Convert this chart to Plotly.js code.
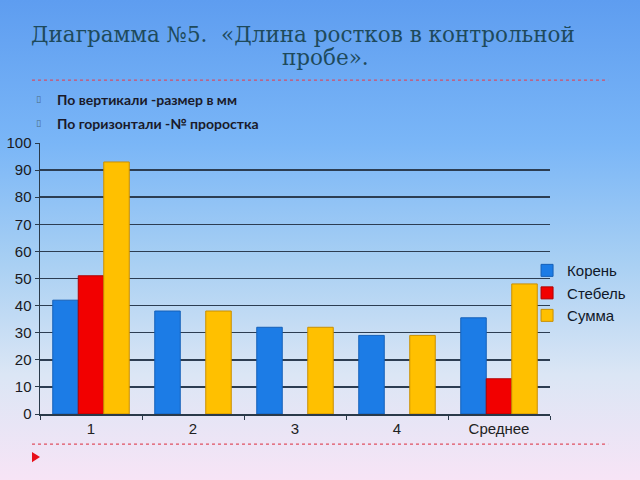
<!DOCTYPE html>
<html>
<head>
<meta charset="utf-8">
<script src="https://cdn.plot.ly/plotly-3.0.1.min.js"></script>
<style>
html,body{margin:0;padding:0;}
#chart{width:640px;height:480px;background:linear-gradient(180deg,#5e9df0 0%,#7ab6f7 30%,#a9d0f3 55%,#dbe6f5 78%,#f7e4f6 100%);}
</style>
</head>
<body>
<div id="chart"></div>
<script>
const categories = ["1", "2", "3", "4", "Среднее"];
const seriesNames = ["Корень", "Стебель", "Сумма"];
const koren = [42, 38, 32, 29, 35.5];
const stebel = [51, 0, 0, 0, 13];
const summa = [93, 38, 32, 29, 48];
const seriesColors = ["#1c7ce6", "#f20000", "#ffc000"];
const lineColors = ["#1560b8", "#b00000", "#c98f00"];
const yTicks = [0, 10, 20, 30, 40, 50, 60, 70, 80, 90, 100];

const values = [koren, stebel, summa];
const traces = values.map((v, i) => ({
  type: "bar",
  name: seriesNames[i],
  x: categories,
  y: v,
  marker: {color: seriesColors[i], line: {color: lineColors[i], width: v.map(d => d === 0 ? 0 : 1)}}
}));

const layout = {
  width: 640, height: 480,
  paper_bgcolor: "rgba(0,0,0,0)",
  plot_bgcolor: "rgba(0,0,0,0)",
  margin: {l: 40, r: 90, t: 143, b: 66, autoexpand: false},
  barmode: "group",
  bargap: 0.25,
  bargroupgap: 0,
  showlegend: true,
  legend: {x: 0.955, xanchor: "left", y: 0.59, yanchor: "top",
    bgcolor: "rgba(0,0,0,0)", font: {family: "Liberation Sans, Arial", size: 15, color: "#101828"},
    tracegroupgap: 0, itemwidth: 30},
  xaxis: {type: "category", showline: true, linecolor: "#2a3a4a", linewidth: 1.5,
    ticks: "outside", tickson: "boundaries", ticklen: 4, tickcolor: "#2a3a4a",
    tickfont: {family: "Liberation Sans, Arial", size: 15, color: "#222"}, showgrid: false},
  yaxis: {range: [0, 100], tickvals: yTicks, showline: true, linecolor: "#2a3a4a", linewidth: 1.5,
    ticks: "outside", ticklen: 4, tickcolor: "#2a3a4a",
    gridcolor: "#2c3d52", gridwidth: 1.5, zeroline: false,
    tickfont: {family: "Liberation Sans, Arial", size: 15, color: "#1a1a22"}},
  shapes: [
    {type: "line", xref: "paper", yref: "paper", x0: -0.0157, x1: 1.114, y0: 1.232, y1: 1.232,
      line: {color: "#d0506a", width: 1.2, dash: "dot"}},
    {type: "line", xref: "paper", yref: "paper", x0: -0.0157, x1: 1.114, y0: -0.111, y1: -0.111,
      line: {color: "#e05060", width: 1.2, dash: "dot"}},
    {type: "path", xref: "paper", yref: "paper",
      path: "M -0.0157 -0.140 L 0.0 -0.159 L -0.0157 -0.178 Z",
      fillcolor: "#e8101a", line: {width: 0}}
  ],
  annotations: [
    {text: "Диаграмма №5.  «Длина ростков в контрольной", xref: "paper", yref: "paper",
      x: -0.022, y: 1.40, xanchor: "left", yanchor: "middle", showarrow: false,
      font: {family: "DejaVu Serif, Liberation Serif, serif", size: 21.5, color: "#1e4a5c"}},
    {text: "пробе».", xref: "paper", yref: "paper",
      x: 0.559, y: 1.314, xanchor: "center", yanchor: "middle", showarrow: false,
      font: {family: "DejaVu Serif, Liberation Serif, serif", size: 21.5, color: "#1e4a5c"}},
    {text: "▯", xref: "paper", yref: "paper", x: -0.002, y: 1.161, xanchor: "center", yanchor: "middle",
      showarrow: false, font: {family: "DejaVu Sans", size: 9, color: "#4a6a80"}},
    {text: "▯", xref: "paper", yref: "paper", x: -0.002, y: 1.073, xanchor: "center", yanchor: "middle",
      showarrow: false, font: {family: "DejaVu Sans", size: 9, color: "#4a6a80"}},
    {text: "<b>По вертикали -размер в мм</b>", xref: "paper", yref: "paper", x: 0.029, y: 1.161,
      xanchor: "left", yanchor: "middle", showarrow: false,
      font: {family: "Lato, Open Sans, sans-serif", size: 14, color: "#1a1a2a"}},
    {text: "<b>По горизонтали -№ проростка</b>", xref: "paper", yref: "paper", x: 0.029, y: 1.073,
      xanchor: "left", yanchor: "middle", showarrow: false,
      font: {family: "Lato, Open Sans, sans-serif", size: 14, color: "#1a1a2a"}}
  ]
};

Plotly.newPlot("chart", traces, layout, {displayModeBar: false, staticPlot: true});
</script>
</body>
</html>
